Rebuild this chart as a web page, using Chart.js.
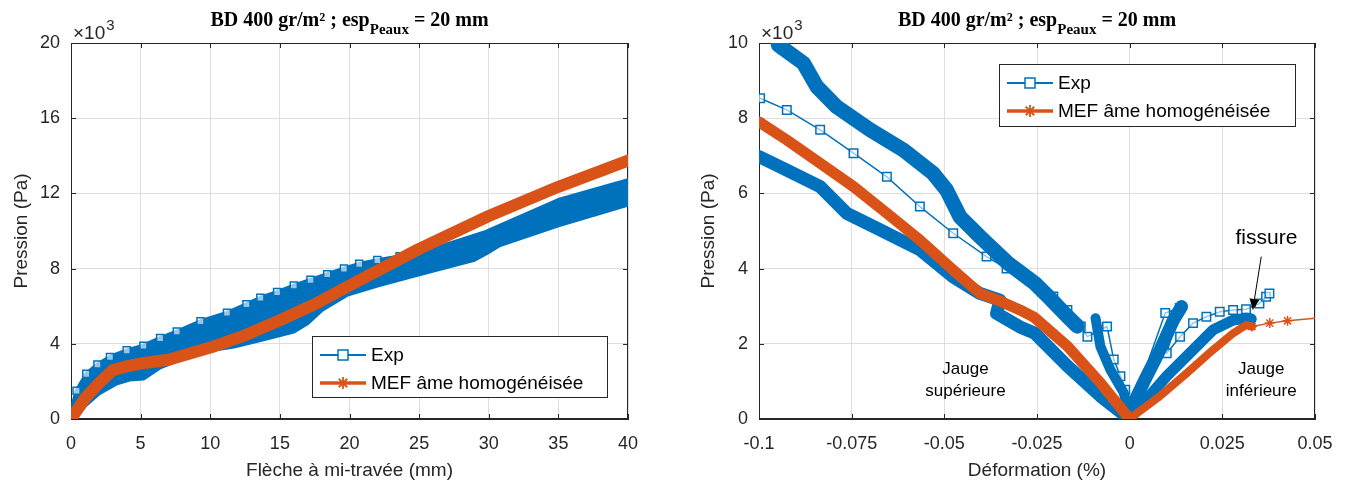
<!DOCTYPE html>
<html lang="fr">
<head>
<meta charset="utf-8">
<script src="https://cdn.jsdelivr.net/npm/chart.js@4.4.1/dist/chart.umd.min.js"></script>
<style>
  html, body { margin: 0; padding: 0; background: #fff; }
  #wrap { position: relative; width: 1352px; height: 484px; }
  canvas { position: absolute; top: 0; }
  #chartFleche { left: 0; }
  #chartDef { left: 676px; }
</style>
</head>
<body>
<div id="wrap">
  <canvas id="chartFleche" width="676" height="484"></canvas>
  <canvas id="chartDef" width="676" height="484"></canvas>
</div>
<script>
// ======================
// Données : figure gauche (pression x10^3 Pa / flèche mm)
// ======================
const xTicksL = [0, 5, 10, 15, 20, 25, 30, 35, 40];
const yTicksL = [0, 4, 8, 12, 16, 20];

// bord inférieur de la bande Exp
const expBasX = [0.2, 1, 2, 3.3, 4.2, 5.2, 6.4, 8.3, 10, 11.7, 13.6, 16, 17, 18, 19.8, 22, 24.8, 28.9, 29.8, 30.8, 35, 40];
const expBasY = [0, 0.7, 1.35, 1.9, 2.1, 2.15, 2.75, 3.3, 3.65, 3.85, 4.2, 4.65, 5.1, 5.8, 6.6, 7.1, 7.65, 8.45, 8.8, 9.25, 10.3, 11.4];
// bord supérieur (carrés)
const expHautX = [0, 0.4, 1.1, 1.9, 2.8, 4, 5.2, 6.4, 7.6, 9.3, 11.2, 12.6, 13.6, 14.8, 16, 17.2, 18.4, 19.6, 20.7, 22, 23.6, 26, 29.8, 35, 40];
const expHautY = [0.4, 1.5, 2.4, 2.9, 3.3, 3.65, 3.9, 4.3, 4.65, 5.2, 5.65, 6.1, 6.45, 6.75, 7.1, 7.4, 7.7, 8.0, 8.25, 8.45, 8.65, 9.05, 9.95, 11.65, 12.7];
// MEF
const mefX = [0, 1, 2, 3, 4, 5, 7, 10, 12.5, 15, 17.5, 20, 25, 30, 35, 40];
const mefY = [0, 1.1, 1.9, 2.6, 2.8, 2.95, 3.15, 3.8, 4.45, 5.25, 6.1, 7.1, 9.05, 10.8, 12.35, 13.75];

// ======================
// Données : figure droite (pression x10^3 Pa / déformation %)
// ======================
const xTicksR = [-0.1, -0.075, -0.05, -0.025, 0, 0.025, 0.05];
const xLabelsR = ["-0.1", "-0.075", "-0.05", "-0.025", "0", "0.025", "0.05"];
const yTicksR = [0, 2, 4, 6, 8, 10];

// Exp - jauge supérieure
const bandeHautX = [-0.0948, -0.088, -0.0844, -0.079, -0.070, -0.061, -0.053, -0.0494, -0.0458, -0.0404, -0.0329, -0.0257, -0.0212, -0.0168, -0.0141];
const bandeHautY = [9.95, 9.46, 8.84, 8.3, 7.69, 7.15, 6.53, 6.09, 5.38, 4.85, 4.15, 3.62, 3.18, 2.73, 2.47];
const bandeBasX = [-0.1, -0.0925, -0.0835, -0.0763, -0.0673, -0.0566, -0.0476, -0.0404, -0.035, -0.0359, -0.0296, -0.0257, -0.0168, -0.0079, 0];
const bandeBasY = [6.98, 6.62, 6.18, 5.47, 5.03, 4.5, 3.78, 3.34, 3.16, 2.81, 2.45, 2.29, 1.41, 0.61, 0];
const carresGX = [-0.0997, -0.0925, -0.0835, -0.0745, -0.0655, -0.0566, -0.0476, -0.0386, -0.0332, -0.0206, -0.0168, -0.0132, -0.0114, -0.0061, -0.0043, -0.0025, -0.0012, 0];
const carresGY = [8.53, 8.22, 7.69, 7.07, 6.44, 5.65, 4.94, 4.32, 4.0, 3.26, 2.9, 2.46, 2.19, 2.46, 1.58, 1.14, 0.78, 0.2];
const bandeVertGX = [-0.0092, -0.0079, -0.0052, -0.0016, 0];
const bandeVertGY = [2.68, 1.93, 1.31, 0.7, 0];

// Exp - jauge inférieure
const bandeVertDX = [0, 0.0011, 0.0046, 0.0082, 0.0118, 0.014];
const bandeVertDY = [0, 0.43, 1.14, 1.84, 2.63, 2.99];
const bandeBasDX = [0, 0.0029, 0.01, 0.0171, 0.0225, 0.0279, 0.0314, 0.0328];
const bandeBasDY = [0, 0.34, 1.14, 1.84, 2.37, 2.63, 2.68, 2.66];
const carresDX = [0.0005, 0.0096, 0.0135, 0.01, 0.0136, 0.0171, 0.0207, 0.0243, 0.0279, 0.0314, 0.035, 0.0368, 0.0377];
const carresDY = [0.3, 2.82, 2.95, 1.75, 2.19, 2.55, 2.72, 2.85, 2.9, 2.92, 3.07, 3.25, 3.34];

// MEF
const mefGX = [-0.1, -0.0925, -0.0835, -0.0745, -0.0655, -0.0566, -0.0476, -0.0404, -0.0346, -0.0296, -0.0257, -0.0168, -0.0079, 0];
const mefGY = [7.9, 7.42, 6.8, 6.18, 5.47, 4.76, 3.96, 3.34, 3.12, 2.9, 2.7, 1.94, 0.96, 0];
const mefDX = [0, 0.001, 0.0082, 0.0154, 0.0225, 0.0279, 0.0314, 0.033];
const mefDY = [0, 0.08, 0.61, 1.22, 1.84, 2.28, 2.5, 2.46];
const mefFinX = [0.033, 0.0378, 0.0426, 0.05];
const mefFinY = [2.46, 2.55, 2.61, 2.68];

// ======================
// Style
// ======================
const BLEU = "#0072BD";
const ORANGE = "#D95319";
const AXE = "#262626";
const GRILLE = "#dedede";
const SANS = "'Liberation Sans', Arial, sans-serif";
const SERIF = "'Liberation Serif', 'Times New Roman', serif";

function zip(xs, ys) {
  return xs.map((x, i) => ({ x, y: ys[i] }));
}

// ======================
// Plugins (titre, cadre, légende, annotations)
// ======================
const cadrePlugin = {
  id: "cadre",
  beforeDatasetsDraw(chart) {
    const { ctx, chartArea: a, scales } = chart;
    ctx.save();
    ctx.strokeStyle = AXE;
    ctx.lineWidth = 1;
    ctx.strokeRect(a.left + 0.5, a.top + 0.5, a.right - a.left - 1, a.bottom - a.top - 1);
    // graduations vers l'intérieur
    ctx.beginPath();
    scales.x.ticks.forEach(t => {
      const px = Math.round(scales.x.getPixelForValue(t.value)) + 0.5;
      ctx.moveTo(px, a.bottom); ctx.lineTo(px, a.bottom - 5);
      ctx.moveTo(px, a.top); ctx.lineTo(px, a.top + 5);
    });
    scales.y.ticks.forEach(t => {
      const py = Math.round(scales.y.getPixelForValue(t.value)) + 0.5;
      ctx.moveTo(a.left, py); ctx.lineTo(a.left + 5, py);
      ctx.moveTo(a.right, py); ctx.lineTo(a.right - 5, py);
    });
    ctx.stroke();
    ctx.restore();
  },
  afterDraw(chart) {
    const { ctx, chartArea: a } = chart;
    ctx.save();
    ctx.fillStyle = "#000";
    // titre avec indice
    const main1 = "BD 400 gr/m² ; esp";
    const sub = "Peaux";
    const main2 = " = 20 mm";
    const fMain = "bold 20px " + SERIF;
    const fSub = "bold 15px " + SERIF;
    ctx.font = fMain;
    const w1 = ctx.measureText(main1).width;
    const w3 = ctx.measureText(main2).width;
    ctx.font = fSub;
    const w2 = ctx.measureText(sub).width;
    let x = (a.left + a.right) / 2 - (w1 + w2 + w3) / 2;
    ctx.textBaseline = "alphabetic";
    ctx.textAlign = "left";
    ctx.font = fMain; ctx.fillText(main1, x, 26); x += w1;
    ctx.font = fSub; ctx.fillText(sub, x, 34); x += w2;
    ctx.font = fMain; ctx.fillText(main2, x, 26);
    // x10^3
    ctx.fillStyle = AXE;
    ctx.font = "19px " + SANS;
    const base = "×10";
    ctx.fillText(base, a.left + 2, 39);
    const wb = ctx.measureText(base).width;
    ctx.font = "15px " + SANS;
    ctx.fillText("3", a.left + 2 + wb + 1, 30);
    ctx.restore();
  }
};

const legendePlugin = {
  id: "legende",
  afterDraw(chart, args, opts) {
    const { ctx } = chart;
    const b = opts.box;
    ctx.save();
    ctx.fillStyle = "#fff";
    ctx.fillRect(b[0], b[1], b[2] - b[0], b[3] - b[1]);
    ctx.strokeStyle = AXE;
    ctx.lineWidth = 1;
    ctx.strokeRect(b[0] + 0.5, b[1] + 0.5, b[2] - b[0], b[3] - b[1]);
    const x0 = b[0] + 8, x1 = b[0] + 54, xm = b[0] + 31;
    const y1 = b[1] + 19, y2 = b[1] + 47;
    // Exp
    ctx.strokeStyle = BLEU;
    ctx.lineWidth = 2;
    ctx.beginPath(); ctx.moveTo(x0, y1); ctx.lineTo(x1, y1); ctx.stroke();
    ctx.fillStyle = "#fff";
    ctx.fillRect(xm - 5, y1 - 5, 10, 10);
    ctx.lineWidth = 1.5;
    ctx.strokeRect(xm - 5, y1 - 5, 10, 10);
    // MEF
    ctx.strokeStyle = ORANGE;
    ctx.lineWidth = 3.5;
    ctx.beginPath(); ctx.moveTo(x0, y2); ctx.lineTo(x1, y2); ctx.stroke();
    ctx.lineWidth = 1.8;
    ctx.beginPath();
    for (let k = 0; k < 4; k++) {
      const ang = k * Math.PI / 4;
      ctx.moveTo(xm - 6 * Math.cos(ang), y2 - 6 * Math.sin(ang));
      ctx.lineTo(xm + 6 * Math.cos(ang), y2 + 6 * Math.sin(ang));
    }
    ctx.stroke();
    ctx.fillStyle = "#000";
    ctx.font = "19px " + SANS;
    ctx.textBaseline = "middle";
    ctx.fillText("Exp", b[0] + 59, y1 + 1);
    ctx.fillText("MEF âme homogénéisée", b[0] + 59, y2 + 1);
    ctx.restore();
  }
};

const annotPlugin = {
  id: "annot",
  afterDatasetsDraw(chart, args, opts) {
    if (!opts.textes) return;
    const { ctx, scales } = chart;
    ctx.save();
    ctx.fillStyle = "#000";
    ctx.textAlign = "center";
    ctx.textBaseline = "middle";
    opts.textes.forEach(t => {
      ctx.font = t.size + "px " + SANS;
      ctx.fillText(t.txt, scales.x.getPixelForValue(t.x), scales.y.getPixelForValue(t.y));
    });
    // flèche "fissure"
    const f = opts.fleche;
    const xa = scales.x.getPixelForValue(f[0]), ya = scales.y.getPixelForValue(f[1]);
    const xb = scales.x.getPixelForValue(f[2]), yb = scales.y.getPixelForValue(f[3]);
    const ang = Math.atan2(yb - ya, xb - xa);
    ctx.strokeStyle = "#000";
    ctx.lineWidth = 1;
    ctx.beginPath(); ctx.moveTo(xa, ya); ctx.lineTo(xb - 9 * Math.cos(ang), yb - 9 * Math.sin(ang)); ctx.stroke();
    ctx.beginPath();
    ctx.moveTo(xb, yb);
    ctx.lineTo(xb - 11 * Math.cos(ang) + 5 * Math.sin(ang), yb - 11 * Math.sin(ang) - 5 * Math.cos(ang));
    ctx.lineTo(xb - 11 * Math.cos(ang) - 5 * Math.sin(ang), yb - 11 * Math.sin(ang) + 5 * Math.cos(ang));
    ctx.closePath();
    ctx.fill();
    ctx.restore();
  }
};

// ======================
// Options communes
// ======================
function axes(cfg) {
  return {
    x: {
      type: "linear",
      min: cfg.xMin, max: cfg.xMax,
      afterBuildTicks: s => { s.ticks = cfg.xTicks.map(v => ({ value: v })); },
      afterFit: s => { s.height = 65; },
      ticks: {
        font: { family: SANS, size: 18 }, color: AXE, padding: 14,
        maxRotation: 0, autoSkip: false,
        callback: (v, i) => cfg.xLabels[i]
      },
      grid: { color: GRILLE, drawTicks: false },
      border: { color: AXE },
      title: {
        display: true, text: cfg.xTitle, color: AXE,
        font: { family: SANS, size: 19 }, padding: { top: 0, bottom: 2 }
      }
    },
    y: {
      type: "linear",
      min: cfg.yMin, max: cfg.yMax,
      afterBuildTicks: s => { s.ticks = cfg.yTicks.map(v => ({ value: v })); },
      afterFit: s => { s.width = cfg.yWidth; },
      ticks: {
        font: { family: SANS, size: 18 }, color: AXE, padding: 11,
        autoSkip: false, callback: v => String(v)
      },
      grid: { color: GRILLE, drawTicks: false },
      border: { color: AXE },
      title: {
        display: true, text: "Pression (Pa)", color: AXE,
        font: { family: SANS, size: 19 }, padding: { top: cfg.yTitlePad, bottom: 0 }
      }
    }
  };
}

function ligne(xs, ys, couleur, largeur, extra) {
  return Object.assign({
    data: zip(xs, ys),
    borderColor: couleur,
    borderWidth: largeur,
    pointRadius: 0,
    borderJoinStyle: "round",
    borderCapStyle: "round",
    tension: 0,
    fill: false
  }, extra || {});
}

// ======================
// Figure gauche
// ======================
new Chart(document.getElementById("chartFleche"), {
  type: "line",
  data: {
    datasets: [
      ligne(mefX, mefY, ORANGE, 12, { order: 0 }),
      ligne(expBasX, expBasY, BLEU, 4, { order: 2 }),
      ligne(expHautX, expHautY, BLEU, 4, {
        order: 1,
        fill: "-1",
        backgroundColor: BLEU,
        pointStyle: "rect",
        pointRadius: expHautX.map(x => (x <= 24 ? 5 : 0)),
        pointBorderColor: BLEU,
        pointBackgroundColor: "rgba(255,255,255,0.6)",
        pointBorderWidth: 1.5
      })
    ]
  },
  options: {
    responsive: false,
    animation: false,
    devicePixelRatio: 1,
    layout: { padding: { top: 43, right: 48, left: 0, bottom: 0 } },
    plugins: {
      legend: { display: false },
      tooltip: { enabled: false },
      legende: { box: [312, 336, 607, 397] }
    },
    scales: axes({
      xMin: 0, xMax: 40, xTicks: xTicksL, xLabels: xTicksL.map(String),
      xTitle: "Flèche à mi-travée (mm)",
      yMin: 0, yMax: 20, yTicks: yTicksL, yWidth: 71, yTitlePad: 10
    })
  },
  plugins: [cadrePlugin, legendePlugin]
});

// ======================
// Figure droite
// ======================
const carreStyle = {
  pointStyle: "rect",
  pointRadius: 6,
  pointBorderColor: BLEU,
  pointBackgroundColor: "rgba(255,255,255,0.6)",
  pointBorderWidth: 1.5
};

new Chart(document.getElementById("chartDef"), {
  type: "line",
  data: {
    datasets: [
      ligne(mefGX, mefGY, ORANGE, 11, { order: 0 }),
      ligne(mefDX, mefDY, ORANGE, 8, { order: 0 }),
      ligne(mefFinX, mefFinY, ORANGE, 1.5, {
        order: 0, pointStyle: "star", pointRadius: [5, 5, 5, 0],
        pointBorderColor: ORANGE, pointBorderWidth: 1.5
      }),
      ligne(bandeHautX, bandeHautY, BLEU, 15, { order: 1 }),
      ligne(bandeBasX, bandeBasY, BLEU, 13, { order: 1 }),
      ligne(bandeVertGX, bandeVertGY, BLEU, 10, { order: 1 }),
      ligne(bandeVertDX, bandeVertDY, BLEU, 13, { order: 1 }),
      ligne(bandeBasDX, bandeBasDY, BLEU, 11, { order: 1 }),
      ligne(carresGX, carresGY, BLEU, 1.5, Object.assign({ order: 1 }, carreStyle)),
      ligne(carresDX, carresDY, BLEU, 1.5, Object.assign({ order: 1 }, carreStyle))
    ]
  },
  options: {
    responsive: false,
    animation: false,
    devicePixelRatio: 1,
    layout: { padding: { top: 43, right: 37, left: 0, bottom: 0 } },
    plugins: {
      legend: { display: false },
      tooltip: { enabled: false },
      legende: { box: [323, 64, 619, 126] },
      annot: {
        textes: [
          { txt: "Jauge", x: -0.0443, y: 1.31, size: 17 },
          { txt: "supérieure", x: -0.0443, y: 0.73, size: 17 },
          { txt: "Jauge", x: 0.0355, y: 1.31, size: 17 },
          { txt: "inférieure", x: 0.0355, y: 0.73, size: 17 },
          { txt: "fissure", x: 0.0369, y: 4.8, size: 21 }
        ],
        fleche: [0.0355, 4.32, 0.0332, 2.9]
      }
    },
    scales: axes({
      xMin: -0.1, xMax: 0.05, xTicks: xTicksR, xLabels: xLabelsR,
      xTitle: "Déformation (%)",
      yMin: 0, yMax: 10, yTicks: yTicksR, yWidth: 83, yTitlePad: 21
    })
  },
  plugins: [cadrePlugin, legendePlugin, annotPlugin]
});
</script>
</body>
</html>
